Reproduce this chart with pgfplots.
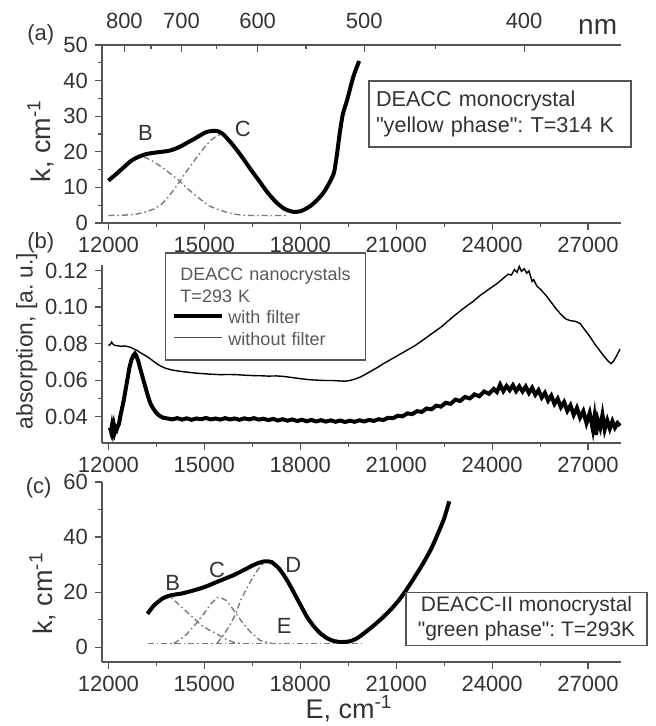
\documentclass[border=0pt]{standalone}
\usepackage{fontspec}
\setmainfont{Liberation Sans}[Ligatures=TeXOff]
\usepackage{pgfplots}
\pgfplotsset{compat=1.18}
\frenchspacing
\definecolor{axgray}{HTML}{555555}
\definecolor{txtgray}{HTML}{333333}
\definecolor{compgray}{HTML}{7A7A7A}
\tikzset{plab/.style={font=\fontsize{11}{13}\selectfont, text=txtgray, inner sep=0.5pt}}
\pgfplotsset{
  myax/.style={
    scale only axis, width=259.5pt,
    xmin=11800, xmax=28030,
    axis x line*=bottom, axis y line*=left,
    axis line style={draw=axgray, line width=0.8pt, -},
    tick align=outside,
    every tick/.style={axgray, line width=0.6pt},
    major tick length=3.5pt, minor tick length=2pt,
    xtick={12000,15000,18000,21000,24000,27000},
    scaled x ticks=false, scaled y ticks=false,
    minor x tick num=1, minor y tick num=1,
    tick label style={font=\fontsize{11}{13}\selectfont, text=txtgray},
    /pgf/number format/assume math mode=true,
    xticklabel style={/pgf/number format/1000 sep={}},
    clip=false,
  },
  comp/.style={compgray, line width=0.7pt, dash pattern=on 3pt off 1.5pt on 0.8pt off 1.5pt},
}
\begin{document}
\begin{tikzpicture}
\path[use as bounding box] (0pt,0pt) rectangle (328pt,-363pt);

% ---------------- panel (a) ----------------
\begin{axis}[myax, at={(51pt,-22.5pt)}, anchor=north west, height=89pt,
  ymin=0, ymax=50, ytick={0,10,20,30,40,50},
  ylabel={k, cm\textsuperscript{-1}},
  ylabel style={at={(axis description cs:-0.118,0.46)}, anchor=center, font=\fontsize{13.5}{15}\selectfont, text=txtgray}]
\addplot[comp] coordinates {(12000,2.1)(12500,2.2)(12895,2.5)(13200,3.2)(13421,3.9)(13650,5.2)(13816,6.7)(14000,8.8)(14210,11.4)(14400,14.0)(14605,16.5)(14800,18.9)(15000,21.2)(15200,23.2)(15395,24.5)(15550,25.0)};
\addplot[comp] coordinates {(12700,17.3)(12950,18.3)(13158,18.4)(13400,17.3)(13600,16.1)(13816,14.7)(14000,13.4)(14210,11.9)(14450,9.8)(14737,7.7)(14950,6.1)(15132,4.9)(15330,4.1)(15526,3.5)(15750,2.9)(15921,2.5)(16200,2.2)(16447,2.1)(17000,2.1)(17632,2.1)};
\addplot[black, line width=2pt, smooth, tension=0.4] coordinates {
(12000,11.9)(12250,13.8)(12500,15.8)(12700,17.4)(12895,18.4)(13158,19.3)(13400,19.7)(13684,20.0)(13900,20.3)(14078,20.8)(14300,21.7)(14474,22.6)(14680,23.6)(14868,24.6)(15000,25.3)(15132,25.7)(15300,25.9)(15450,25.7)(15592,24.9)(15750,23.4)(15921,21.6)(16150,18.9)(16447,15.1)(16700,12.0)(16974,8.6)(17250,5.8)(17500,4.0)(17700,3.3)(17829,3.1)(18000,3.3)(18158,3.9)(18350,5.0)(18553,6.7)(18750,8.8)(18947,11.9)(19050,14.0)(19120,17.5)(19180,21.5)(19237,25.4)(19330,30.5)(19474,34.8)(19580,38.5)(19671,41.4)(19760,43.6)(19842,45.5)};
\node[plab] at (axis cs:13158,25.3) {B};
\node[plab] at (axis cs:16200,26.4) {C};
\node[draw=axgray, line width=0.8pt, text width=124pt, inner xsep=3.5pt, minimum height=33pt, align=left,
  font=\fontsize{10.8}{13}\selectfont, text=txtgray] at (axis description cs:0.767,0.612)
  {DEACC monocrystal\\ "yellow phase": T=314 K};
\node[plab] at (axis description cs:-0.118,1.06) {(a)};
\end{axis}

% top wavelength axis of (a)
\begin{axis}[at={(51pt,-22.5pt)}, anchor=north west, scale only axis, width=259.5pt, height=89pt,
  xmin=11800, xmax=28030, ymin=0, ymax=50,
  axis x line*=top, axis y line=none,
  axis line style={draw=axgray, line width=0.8pt, -},
  tick align=inside, every tick/.style={axgray, line width=0.6pt},
  major tick length=3.5pt, minor tick length=2pt,
  xtick={12500,14285.7,16666.7,20000,25000},
  xticklabels={800,700,600,500,400},
  minor xtick={13333.3,15384.6,18181.8,22222.2},
  xticklabel style={yshift=4.5pt, font=\fontsize{11}{13}\selectfont, text=txtgray},
  clip=false]
\node[font=\fontsize{14}{16}\selectfont, text=txtgray, inner sep=0pt] at (axis description cs:0.955,1.10) {nm};
\end{axis}

% ---------------- panel (b) ----------------
\begin{axis}[myax, at={(51pt,-132.5pt)}, anchor=north west, height=89pt,
  ymin=0.0256, ymax=0.123, ytick={0.04,0.06,0.08,0.10,0.12},
  yticklabel style={/pgf/number format/fixed, /pgf/number format/fixed zerofill, /pgf/number format/precision=2},
  ylabel={absorption, [a. u.]},
  ylabel style={at={(axis description cs:-0.145,0.573)}, anchor=center, font=\fontsize{11.4}{13}\selectfont, text=txtgray}]
\addplot[black, line width=0.7pt] coordinates {
(12000,0.079)(12060,0.0795)(12100,0.0808)(12150,0.0796)(12200,0.0790)(12300,0.0788)(12400,0.0785)(12500,0.0787)(12600,0.0784)(12700,0.0779)(12800,0.0770)(12900,0.0762)(13000,0.0750)(13150,0.0735)(13300,0.0718)(13450,0.0698)(13600,0.0680)(13800,0.0664)(14000,0.0655)(14250,0.0648)(14500,0.0643)(14750,0.0638)(15000,0.0635)(15250,0.0632)(15500,0.0630)(15750,0.0631)(16000,0.0630)(16250,0.0627)(16500,0.0625)(16750,0.0624)(17000,0.0622)(17250,0.0623)(17500,0.0620)(17750,0.0614)(18000,0.0608)(18250,0.0603)(18500,0.0600)(18750,0.0598)(19000,0.0598)(19200,0.0596)(19400,0.0594)(19550,0.0598)(19700,0.0605)(19850,0.0615)(20000,0.0628)(20200,0.0648)(20400,0.0668)(20600,0.0690)(20800,0.0710)(21000,0.0730)(21200,0.0750)(21400,0.0770)(21600,0.0790)(21800,0.0815)(22000,0.0840)(22200,0.0865)(22400,0.0890)(22600,0.0920)(22800,0.0950)(23000,0.0978)(23200,0.1005)(23400,0.1030)(23600,0.1060)(23800,0.1085)(24000,0.1110)(24150,0.1128)(24300,0.1150)(24400,0.1165)(24500,0.1180)(24600,0.1175)(24700,0.1205)(24780,0.1190)(24850,0.1222)(24920,0.1195)(25000,0.1210)(25080,0.1185)(25150,0.1198)(25250,0.1140)(25300,0.1150)(25400,0.1115)(25550,0.1090)(25700,0.1060)(25850,0.1025)(26000,0.0990)(26150,0.0960)(26300,0.0935)(26450,0.0925)(26600,0.0922)(26750,0.0910)(26900,0.0875)(27050,0.0840)(27200,0.0800)(27350,0.0765)(27500,0.0730)(27650,0.0700)(27720,0.0690)(27800,0.0705)(27900,0.0735)(28000,0.0770)};
\addplot[black, line width=2pt] coordinates {
(12050,0.034)(12080,0.032)(12110,0.035)(12140,0.032)(12170,0.035)(12200,0.032)(12230,0.034)(12260,0.033)(12300,0.035)(12330,0.036)(12370,0.040)(12420,0.044)(12480,0.049)(12540,0.055)(12600,0.061)(12660,0.067)(12720,0.071)(12780,0.0735)(12830,0.0745)(12880,0.073)(12940,0.070)(13000,0.066)(13080,0.061)(13160,0.056)(13240,0.051)(13320,0.047)(13400,0.0445)(13500,0.042)(13600,0.0405)(13700,0.0395)(13850,0.039)(14000,0.0385)(14150,0.0392)(14300,0.0384)(14450,0.0391)(14600,0.0383)(14750,0.0390)(14900,0.0386)(15050,0.0393)(15200,0.0385)(15350,0.0390)(15500,0.0384)(15650,0.0392)(15800,0.0385)(15950,0.0390)(16100,0.0383)(16250,0.0391)(16400,0.0385)(16550,0.0392)(16700,0.0384)(16850,0.0389)(17000,0.0381)(17150,0.0388)(17300,0.0379)(17450,0.0386)(17600,0.0378)(17750,0.0385)(17900,0.0376)(18050,0.0383)(18200,0.0375)(18350,0.0382)(18500,0.0374)(18650,0.0381)(18800,0.0373)(18950,0.0380)(19100,0.0372)(19250,0.0379)(19400,0.0371)(19550,0.0378)(19700,0.0372)(19850,0.0380)(20000,0.0374)(20150,0.0382)(20300,0.0377)(20450,0.0386)(20600,0.0382)(20750,0.0394)(20900,0.0392)(21050,0.0405)(21200,0.0402)(21350,0.0418)(21500,0.0414)(21650,0.0430)(21800,0.0426)(21950,0.0445)(22100,0.0440)(22250,0.0460)(22400,0.0455)(22550,0.0476)(22700,0.0470)(22850,0.0493)(23000,0.0486)(23150,0.0508)(23300,0.0500)(23450,0.0522)(23600,0.0512)(23750,0.0538)(23900,0.0525)(24050,0.0552)(24150,0.0535)(24250,0.0575)(24350,0.0540)(24450,0.0568)(24550,0.0545)(24650,0.0572)(24750,0.0540)(24850,0.0566)(24950,0.0538)(25050,0.0565)(25150,0.0530)(25250,0.0558)(25350,0.0520)(25450,0.0545)(25550,0.0505)(25650,0.0530)(25750,0.0488)(25850,0.0515)(25950,0.0470)(26050,0.0498)(26150,0.0452)(26250,0.0480)(26350,0.0432)(26450,0.0462)(26550,0.0410)(26650,0.0448)(26750,0.0395)(26850,0.0430)(26950,0.0365)(27050,0.0420)(27150,0.0330)(27200,0.0395)(27250,0.0300)(27300,0.0385)(27380,0.0340)(27450,0.0410)(27520,0.0330)(27600,0.0380)(27680,0.0335)(27760,0.0375)(27840,0.0340)(27920,0.0365)(28000,0.0350)};
\node[draw=axgray, line width=0.8pt, fill=white, text width=91pt, inner xsep=4.5pt, inner ysep=4pt, minimum height=53.5pt, align=left,
  font=\fontsize{9}{10.75}\selectfont, text=black!65] at (axis description cs:0.315,0.767)
  {\hspace*{3pt}DEACC nanocrystals\\ \hspace*{3pt}T=293 K\\
   {\color{black}\rule[0.55ex]{24pt}{2pt}}\hspace{3pt}with filter\\
   {\color{black!70}\rule[0.7ex]{24pt}{0.6pt}}\hspace{3pt}without filter};
\node[plab] at (axis description cs:-0.118,1.124) {(b)};
\end{axis}

% ---------------- panel (c) ----------------
\begin{axis}[myax, at={(51pt,-241pt)}, anchor=north west, height=90pt,
  ymin=-5.4, ymax=60, ytick={0,20,40,60},
  ylabel={k, cm\textsuperscript{-1}},
  ylabel style={at={(axis description cs:-0.114,0.38)}, anchor=center, font=\fontsize{13.5}{15}\selectfont, text=txtgray},
  xlabel={E, cm\textsuperscript{-1}},
  xlabel style={at={(axis description cs:0.476,-0.258)}, anchor=center, inner sep=0.5pt, font=\fontsize{13.5}{15}\selectfont, text=txtgray}]
\addplot[comp] coordinates {(13224,1.35)(14000,1.35)(15000,1.35)(16000,1.35)(17000,1.35)(18000,1.35)(19000,1.35)(20000,1.35)};
\addplot[comp] coordinates {(13700,17.6)(13947,18.2)(14200,15.5)(14450,12.8)(14656,10.7)(14900,8.0)(15150,6.2)(15396,4.8)(15650,3.0)(15906,1.8)(16100,1.4)};
\addplot[comp] coordinates {(14042,1.35)(14250,2.8)(14458,4.8)(14700,8.0)(14979,12.0)(15200,15.6)(15395,18.0)(15550,17.8)(15708,16.8)(15969,12.6)(16200,8.8)(16450,5.4)(16750,2.4)(17100,1.4)};
\addplot[comp] coordinates {(15396,1.35)(15600,4.5)(15800,8.0)(16000,12.5)(16125,16.8)(16300,20.8)(16500,25.0)(16700,28.6)(16850,30.5)};
\addplot[black, line width=2pt, smooth, tension=0.4] coordinates {
(13224,12.1)(13421,15.1)(13684,17.6)(13880,18.6)(14079,19.1)(14300,19.5)(14474,20.0)(14868,21.3)(15130,22.4)(15395,23.7)(15650,24.9)(15921,26.2)(16200,27.8)(16447,29.3)(16650,30.4)(16842,31.1)(17000,31.2)(17105,30.9)(17303,29.0)(17460,26.6)(17632,23.4)(17820,19.4)(18026,14.9)(18220,10.8)(18421,7.6)(18620,5.1)(18816,3.4)(19000,2.4)(19211,1.9)(19400,1.9)(19605,2.3)(19800,3.4)(20000,5.1)(20260,7.5)(20526,10.2)(20800,13.3)(21053,16.6)(21300,20.5)(21579,25.5)(21850,30.6)(22105,36.0)(22350,42.5)(22500,46.8)(22660,53.0)};
\node[plab] at (axis cs:14013,23.3) {B};
\node[plab] at (axis cs:15395,28.0) {C};
\node[plab] at (axis cs:17780,29.9) {D};
\node[plab] at (axis cs:17500,7.6) {E};
\node[draw=axgray, line width=0.8pt, minimum width=120.5pt, minimum height=26.5pt, inner sep=1pt, align=center,
  font=\fontsize{10.5}{12.5}\selectfont, text=txtgray] at (axis description cs:0.818,0.239)
  {DEACC-II monocrystal\\ "green phase": T=293K};
\node[plab] at (axis description cs:-0.122,0.97) {(c)};
\end{axis}
\end{tikzpicture}
\end{document}
